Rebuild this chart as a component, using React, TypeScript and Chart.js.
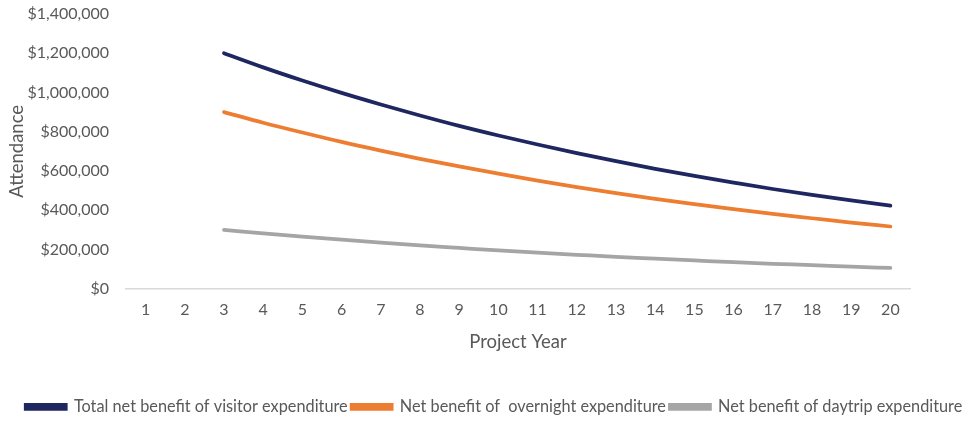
import React, { useEffect, useRef } from "react";
import { Chart, registerables } from "chart.js";

Chart.register(...registerables);

const years = ["1", "2", "3", "4", "5", "6", "7", "8", "9", "10", "11", "12", "13", "14", "15", "16", "17", "18", "19", "20"];

const totalNet = [null, null, 1200000, 1128000, 1061000, 998000, 939000, 883000, 830000, 781000, 735000, 691000, 650000, 611000, 575000, 541000, 508000, 478000, 450000, 423000];
const overnightNet = [null, null, 900000, 846000, 796000, 748000, 704000, 662000, 623000, 586000, 551000, 518000, 487000, 458000, 431000, 405000, 381000, 359000, 337000, 317000];
const daytripNet = [null, null, 300000, 282000, 265000, 250000, 235000, 221000, 208000, 195000, 184000, 173000, 162000, 153000, 144000, 135000, 127000, 120000, 112000, 106000];

const seriesLabels = [
  "Total net benefit of visitor expenditure",
  "Net benefit of  overnight expenditure",
  "Net benefit of daytrip expenditure",
];
const colors = ["#1F2761", "#ED7D31", "#A5A5A5"];

const FONT = "Lato, 'Open Sans', sans-serif";
const TEXT = "#595959";

export default function App() {
  const ref = useRef<HTMLCanvasElement | null>(null);
  useEffect(() => {
    if (!ref.current) return;
    const chart = new Chart(ref.current, {
      type: "line",
      data: {
        labels: years,
        datasets: [totalNet, overnightNet, daytripNet].map((d, i) => ({
          label: seriesLabels[i],
          data: d,
          borderColor: colors[i],
          backgroundColor: colors[i],
          borderWidth: 3.75,
          pointRadius: 0,
          cubicInterpolationMode: "monotone" as const,
          borderCapStyle: "round" as const,
        })),
      },
      options: {
        animation: false,
        responsive: false,
        maintainAspectRatio: false,
        layout: { padding: { top: 14, right: 0, left: 20, bottom: -4 } },
        plugins: {
          tooltip: { enabled: false },
          legend: {
            position: "bottom",
            labels: {
              boxWidth: 40,
              boxHeight: 4,
              padding: 4,
              color: TEXT,
              font: { family: FONT, size: 16.3 },
            },
          },
        },
        scales: {
          x: {
            offset: true,
            grid: { display: false, drawTicks: false },
            border: { display: true, color: "#D9D9D9", width: 1.5 },
            ticks: { color: TEXT, font: { family: FONT, size: 16 }, padding: 12, maxRotation: 0 },
            title: { display: true, text: "Project Year", color: TEXT, font: { family: FONT, size: 18.5 }, padding: { top: 0, bottom: 42 } },
            afterFit: (s: any) => { s.height = 106; },
          },
          y: {
            min: 0,
            max: 1400000,
            grid: { display: false, drawTicks: false },
            border: { display: false },
            ticks: {
              stepSize: 200000,
              color: TEXT,
              padding: 17,
              font: { family: FONT, size: 16 },
              callback: (v: any) => "$" + Number(v).toLocaleString("en-US"),
            },
            title: { display: true, text: "Attendance", color: TEXT, font: { family: FONT, size: 18.5 }, padding: { top: -14, bottom: 0 } },
            afterFit: (s: any) => { s.width = 106; s.paddingTop = 0; s.paddingBottom = 0; },
          },
          yRight: {
            position: "right",
            min: 0,
            max: 1400000,
            grid: { display: false, drawTicks: false },
            border: { display: false },
            ticks: { display: false },
            afterFit: (s: any) => { s.width = 58; s.paddingTop = 0; s.paddingBottom = 0; },
          },
        },
      },
    });
    return () => chart.destroy();
  }, []);
  return (
    <div style={{ position: "absolute", left: 0, top: 0, width: 968, height: 421, background: "#fff" }}>
      <canvas ref={ref} width={968} height={421} />
    </div>
  );
}
